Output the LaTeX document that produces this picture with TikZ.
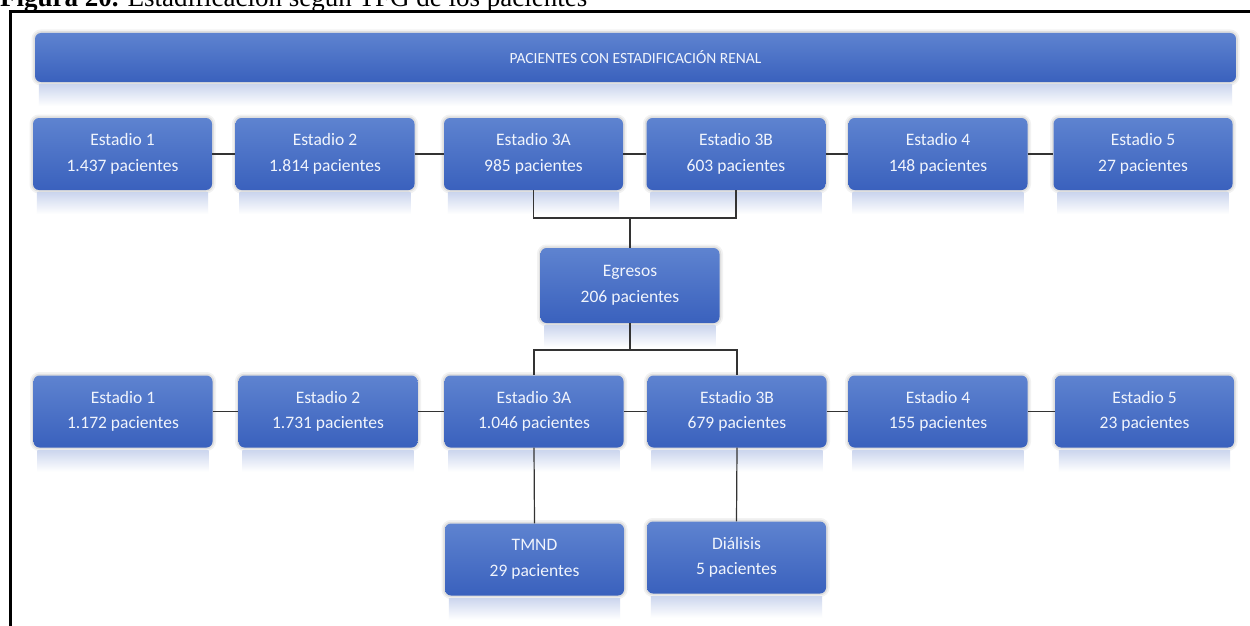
\documentclass[tikz,border=0pt]{standalone}
\usepackage{fontspec}
\setmainfont{Carlito}
\newfontfamily\capfont{Liberation Serif}
\usetikzlibrary{calc}
\definecolor{btop}{RGB}{94,131,208}
\definecolor{bbot}{RGB}{58,97,189}
\definecolor{refl}{RGB}{204,214,238}
\definecolor{txt}{RGB}{240,244,252}
\tikzset{
 bx/.style={rounded corners=6pt, top color=btop, bottom color=bbot, draw=none, text=txt,
   align=center, font=\fontsize{17.5}{25.5}\selectfont, minimum width=179pt, minimum height=72pt, inner sep=0pt,
   preaction={draw=black, draw opacity=0.05, line width=7pt, fill=none},
   preaction={draw=black, draw opacity=0.08, line width=3.5pt, fill=none}},
 ln/.style={draw=black!80, line width=1.2pt},
 reflx/.style={top color=refl, bottom color=white, draw=none},
}
\begin{document}
\begin{tikzpicture}[x=1pt,y=-1pt]
\useasboundingbox (0,0) rectangle (1250,626);
\fill[white] (0,0) rectangle (1250,626);
% caption (cut at top, as in the reference)
\begin{scope}
\clip (0,0) rectangle (1250,10);
\node[anchor=base west, inner sep=0pt, font=\capfont\fontsize{27}{30}\selectfont] (cap) at (0,7) {\textbf{Figura 20.} Estadificación según TFG de los pacientes};
\end{scope}
% frame
\draw[line width=2.7pt] (10.5,630) -- (10.5,11.5) -- (1252,11.5);
% title
\node[bx, minimum width=1201pt, minimum height=49pt, font=\fontsize{15.5}{18}\selectfont] (title) at (635.5,57.5) {PACIENTES CON ESTADIFICACIÓN RENAL};
% row 1
\node[bx] (r1a) at (122.5,154) {Estadio 1\\1.437 pacientes};
\node[bx] (r1b) at (325,154) {Estadio 2\\1.814 pacientes};
\node[bx] (r1c) at (533.5,154) {Estadio 3A\\985 pacientes};
\node[bx] (r1d) at (736,154) {Estadio 3B\\603 pacientes};
\node[bx] (r1e) at (938,154) {Estadio 4\\148 pacientes};
\node[bx] (r1f) at (1143,154) {Estadio 5\\27 pacientes};
% egresos
\node[bx, minimum height=75pt] (eg) at (630,285.5) {Egresos\\206 pacientes};
% row 2
\node[bx] (r2a) at (123,411.5) {Estadio 1\\1.172 pacientes};
\node[bx] (r2b) at (328,411.5) {Estadio 2\\1.731 pacientes};
\node[bx] (r2c) at (534,411.5) {Estadio 3A\\1.046 pacientes};
\node[bx] (r2d) at (737,411.5) {Estadio 3B\\679 pacientes};
\node[bx] (r2e) at (938,411.5) {Estadio 4\\155 pacientes};
\node[bx] (r2f) at (1144.5,411.5) {Estadio 5\\23 pacientes};
% bottom
\node[bx] (tm) at (534.5,559.5) {TMND\\29 pacientes};
\node[bx] (di) at (736.5,557.5) {Diálisis\\5 pacientes};
% reflections
\foreach \n in {title,r1a,r1b,r1c,r1d,r1e,r1f,eg,r2a,r2b,r2c,r2d,r2e,r2f,tm,di}{
  \shade[reflx] ($(\n.south west)+(4,2.5)$) rectangle ($(\n.south east)+(-4,24)$);
}
% connectors
\coordinate (j1) at (630,218);
\coordinate (j2) at (630,350);
\draw[ln] (r1a.east) -- (r1b.west);
\draw[ln] (r1b.east) -- (r1c.west);
\draw[ln] (r1c.east) -- (r1d.west);
\draw[ln] (r1d.east) -- (r1e.west);
\draw[ln] (r1e.east) -- (r1f.west);
\draw[ln] (r1c.south) |- (j1);
\draw[ln] (r1d.south) |- (j1);
\draw[ln] (j1) -- (eg.north);
\draw[ln] (eg.south) -- (j2);
\draw[ln] (j2) -| (r2c.north);
\draw[ln] (j2) -| (r2d.north);
\draw[ln] (r2a.east) -- (r2b.west);
\draw[ln] (r2b.east) -- (r2c.west);
\draw[ln] (r2c.east) -- (r2d.west);
\draw[ln] (r2d.east) -- (r2e.west);
\draw[ln] (r2e.east) -- (r2f.west);
\draw[ln] (r2c.south) -- (tm.north);
\draw[ln] (r2d.south) -- (di.north);
\end{tikzpicture}
\end{document}
